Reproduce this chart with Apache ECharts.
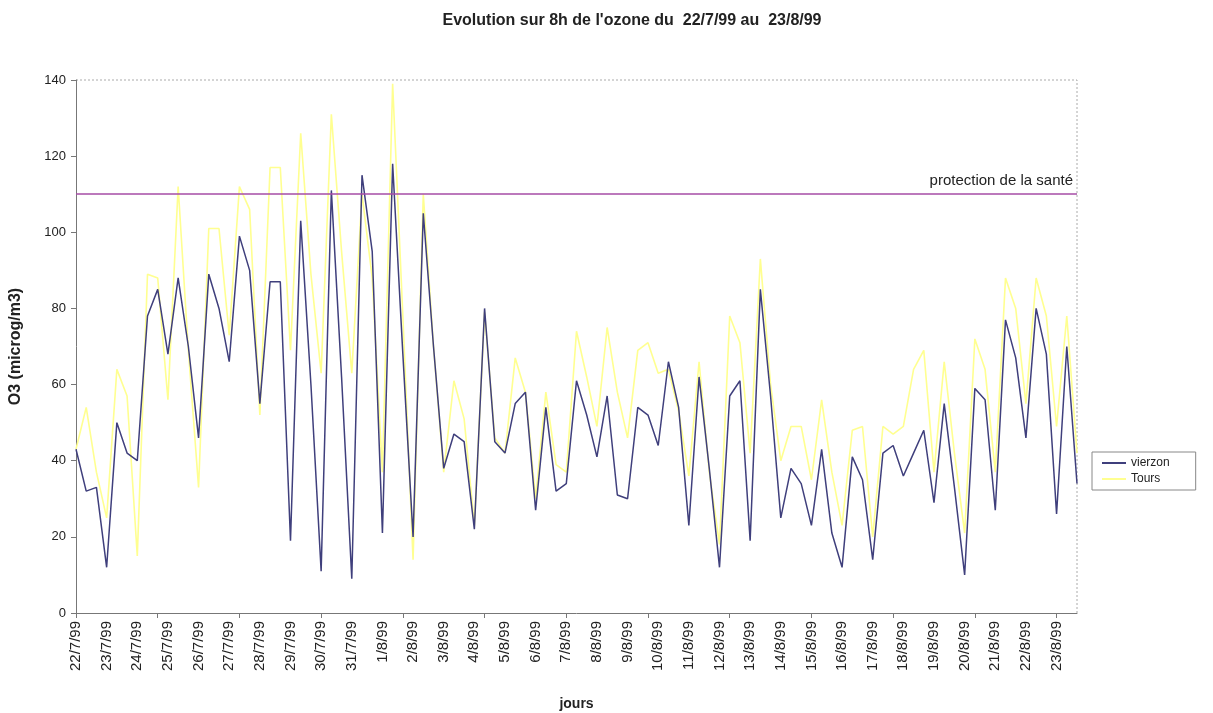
<!DOCTYPE html>
<html>
<head>
<meta charset="utf-8">
<script src="https://cdn.jsdelivr.net/npm/echarts@6/dist/echarts.min.js"></script>
<style>
  html, body { margin: 0; padding: 0; background: #fff; }
  #chart { width: 1213px; height: 713px; }
</style>
</head>
<body>
<div id="chart"></div>
<script>
// jours (3 moyennes sur 8h par jour)
const days = ['22/7/99', '23/7/99', '24/7/99', '25/7/99', '26/7/99', '27/7/99', '28/7/99', '29/7/99',
    '30/7/99', '31/7/99', '1/8/99', '2/8/99', '3/8/99', '4/8/99', '5/8/99', '6/8/99', '7/8/99',
    '8/8/99', '9/8/99', '10/8/99', '11/8/99', '12/8/99', '13/8/99', '14/8/99', '15/8/99', '16/8/99',
    '17/8/99', '18/8/99', '19/8/99', '20/8/99', '21/8/99', '22/8/99', '23/8/99'];
const slots = ['0h', '8h', '16h'];

const vierzon = [43, 32, 33, 12, 50, 42, 40, 78, 85, 68, 88, 70, 46, 89, 80, 66, 99, 90, 55, 87,
    87, 19, 103, 60, 11, 111, 62, 9, 115, 95, 21, 118, 68, 20, 105, 70, 38, 47, 45, 22,
    80, 45, 42, 55, 58, 27, 54, 32, 34, 61, 52, 41, 57, 31, 30, 54, 52, 44, 66, 54,
    23, 62, 38, 12, 57, 61, 19, 85, 57, 25, 38, 34, 23, 43, 21, 12, 41, 35, 14, 42,
    44, 36, 42, 48, 29, 55, 33, 10, 59, 56, 27, 77, 67, 46, 80, 68, 26, 70, 34];

const tours = [43, 54, 37, 25, 64, 57, 15, 89, 88, 56, 112, 69, 33, 101, 101, 73, 112, 106, 52, 117,
    117, 69, 126, 89, 63, 131, 95, 63, 110, 88, 37, 139, 78, 14, 110, 70, 37, 61, 51, 23,
    79, 46, 42, 67, 58, 30, 58, 39, 37, 74, 62, 49, 75, 58, 46, 69, 71, 63, 64, 53,
    36, 66, 37, 18, 78, 71, 42, 93, 60, 40, 49, 49, 35, 56, 37, 23, 48, 49, 20, 49,
    47, 49, 64, 69, 37, 66, 42, 21, 72, 64, 37, 88, 80, 55, 88, 78, 49, 78, 42];

const seuilSante = 110;

const categories = [];
days.forEach(d => slots.forEach(s => categories.push(d + ' ' + s)));

const chart = echarts.init(document.getElementById('chart'));
const font = 'Liberation Sans, Arial, sans-serif';

chart.setOption({
    backgroundColor: '#fff',
    animation: false,
    textStyle: { fontFamily: font },
    title: {
        text: "Evolution sur 8h de l'ozone du  22/7/99 au  23/8/99",
        left: 627, top: 8, textAlign: 'center',
        textStyle: { fontSize: 16, fontWeight: 'bold', color: '#222', fontFamily: font }
    },
    legend: {
        orient: 'vertical', left: 1092, top: 452,
        padding: [5, 26, 5, 10], itemGap: 4, itemWidth: 24, itemHeight: 2,
        icon: 'rect',
        borderColor: '#888', borderWidth: 1,
        textStyle: { fontSize: 12, color: '#222' },
        data: ['vierzon', 'Tours']
    },
    grid: { left: 76, right: 136, top: 80, bottom: 100, outerBoundsMode: 'none' },
    xAxis: {
        type: 'category', data: categories, boundaryGap: false,
        name: 'jours', nameLocation: 'middle', nameGap: 84,
        nameTextStyle: { fontSize: 14, fontWeight: 'bold', color: '#222' },
        axisLine: { lineStyle: { color: '#777' } },
        axisTick: { interval: 7, length: 5, lineStyle: { color: '#777' } },
        axisLabel: {
            interval: 2, rotate: 90, fontSize: 15, color: '#222', margin: 8,
            formatter: v => v.split(' ')[0]
        },
        splitLine: { show: false }
    },
    yAxis: {
        type: 'value', min: 0, max: 140, interval: 20,
        name: 'O3 (microg/m3)', nameLocation: 'middle', nameGap: 52, nameRotate: 90,
        nameTextStyle: { fontSize: 16, fontWeight: 'bold', color: '#222' },
        axisLine: { show: true, lineStyle: { color: '#777' } },
        axisTick: { show: true, length: 5, lineStyle: { color: '#777' } },
        axisLabel: { fontSize: 13, color: '#222', margin: 10 },
        splitLine: { show: false }
    },
    series: [
        {
            name: 'vierzon', type: 'line', data: vierzon, symbol: 'none',
            lineStyle: { color: '#3f3f7c', width: 1.5 }, itemStyle: { color: '#3f3f7c' }, z: 3,
            markLine: {
                silent: true, symbol: 'none',
                lineStyle: { color: '#a64ca6', width: 1.5, type: 'solid' },
                label: {
                    position: 'insideEndTop', formatter: 'protection de la santé',
                    fontSize: 15, color: '#222', distance: [4, 6]
                },
                data: [{ yAxis: seuilSante }]
            }
        },
        {
            name: 'Tours', type: 'line', data: tours, symbol: 'none',
            lineStyle: { color: '#ffff90', width: 1.6 }, itemStyle: { color: '#ffff90' }, z: 2
        }
    ],
    graphic: [
        {
            type: 'polyline', silent: true,
            shape: { points: [[76, 80], [1077, 80], [1077, 613]] },
            style: { stroke: '#aaa', lineWidth: 1, lineDash: [2, 2], fill: null }
        }
    ]
});
</script>
</body>
</html>
